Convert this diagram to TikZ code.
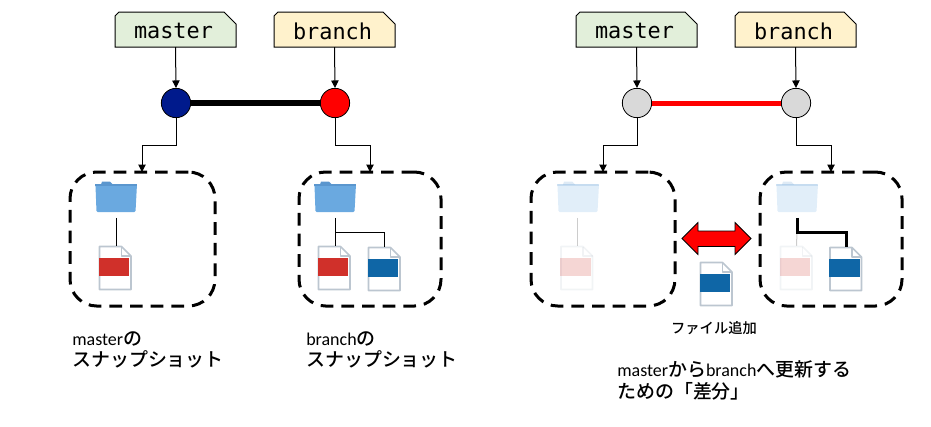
\documentclass[tikz,border=0pt]{standalone}
\usepackage{fontspec}
\setmainfont[Scale=0.95]{Carlito}
\setmonofont{DejaVu Sans Mono}
\newfontfamily\cjk{Noto Sans CJK JP Medium}
\newcommand{\jp}[1]{{\cjk #1}}
\newcommand{\captionfont}{\fontsize{14.2}{15}\selectfont\setlength{\lineskiplimit}{-20pt}}
\usetikzlibrary{arrows.meta}
\definecolor{notegreen}{HTML}{E2EFDA}
\definecolor{noteyellow}{HTML}{FFF2CC}
\definecolor{navy}{HTML}{001A8C}
\definecolor{nodegray}{HTML}{D9D9D9}
\definecolor{folderblue}{HTML}{6AA9E0}
\definecolor{foldertab}{HTML}{5A96CE}
\definecolor{fileline}{HTML}{BCC6D0}
\definecolor{filered}{HTML}{D0302A}
\definecolor{fileblue}{HTML}{0F66A6}
\tikzset{
  thin line/.style={draw=black,line width=0.75pt},
  arr/.style={thin line,-{Triangle[length=5.6pt,width=5.6pt]}},
  commit/.style={circle,draw=black,line width=0.6pt,minimum size=22pt,inner sep=0pt},
  notelabel/.style={inner sep=0pt,font=\ttfamily\fontsize{16.4}{18}\selectfont},
  snapshot/.style={rectangle,rounded corners=20pt,draw=black,line width=2.25pt,dash pattern=on 9.5pt off 6pt,inner sep=0pt},
  folderspot/.style={inner sep=0pt,minimum width=31.5pt,minimum height=23.25pt},
  filespot/.style={inner sep=0pt,minimum width=24.75pt,minimum height=33pt},
  caption/.style={inner sep=0pt,anchor=north west,align=left,font=\captionfont},
  gapstart/.style={shorten <=3.75pt},
}
\newcommand{\notebox}[5]{% name, left, top, colour, text
  \begin{scope}[shift={(#2,#3)}]
    \draw[fill=#4,line width=0.75pt] (0,35) -- (0,4) -- (4,0) -- (109,0) -- (121,12) -- (121,35) -- cycle;
    \node[notelabel] (#1) at (58.5,19) {#5};
    \coordinate (#1s) at (60.5,35);
  \end{scope}}
\newcommand{\folderart}[3]{% left, top, opacity
  \begin{scope}[shift={(#1,#2)},opacity=#3]
    \fill[foldertab] (6,3.5) -- (7,0.5) -- (15,0.5) -- (18,3.5) -- cycle;
    \fill[folderblue] (0.5,4.5) [rounded corners=0.8pt] -- (0,3) -- (42,3) -- (40.5,31) -- (1.5,31) -- cycle;
    \fill[foldertab] (0,3) rectangle (42,4.5);
  \end{scope}}
\newcommand{\fileart}[4]{% left, top, colour, opacity
  \begin{scope}[shift={(#1,#2)},opacity=#4]
    \draw[fileline,line width=1.2pt,line join=round,fill=white] (1,0.5) -- (23,0.5) -- (32.5,10) -- (32.5,43.5) -- (1,43.5) -- cycle;
    \draw[fileline,line width=0.8pt,line join=round] (23,0.5) -- (23,10) -- (32.5,10);
    \fill[#3] (0,12) rectangle (30.5,30);
  \end{scope}}
\begin{document}
\begin{tikzpicture}[x=0.75pt,y=-0.75pt]
\useasboundingbox (0,0) rectangle (931,426);
% notes
\notebox{n1}{115}{12}{notegreen}{master}
\notebox{n2}{274}{12}{noteyellow}{branch}
\notebox{n3}{576}{12}{notegreen}{master}
\notebox{n4}{735}{12}{noteyellow}{branch}
% commits
\node[commit,fill=navy] (c1) at (176,103) {};
\node[commit,fill=red] (c2) at (335,103) {};
\node[commit,fill=nodegray] (c3) at (637,103) {};
\node[commit,fill=nodegray] (c4) at (796,103) {};
\draw[line width=4.5pt] (c1) -- (c2);
\draw[line width=3.75pt,red] (c3) -- (c4);
% snapshots
\node[snapshot,minimum width=108.75pt,minimum height=100.5pt] (b1) at (142.5,239) {};
\node[snapshot,minimum width=106.5pt,minimum height=100.5pt] (b2) at (370,239) {};
\node[snapshot,minimum width=108pt,minimum height=100.5pt] (b3) at (603,239) {};
\node[snapshot,minimum width=106.5pt,minimum height=100.5pt] (b4) at (831,239) {};
% pointers
\foreach \i in {1,2,3,4}{\draw[arr] (n\i s) -- (c\i.north);}
\coordinate (t1) at (142,172);
\coordinate (t2) at (370,172);
\coordinate (t3) at (603,172);
\coordinate (t4) at (831,172);
\foreach \i in {1,2,3,4}{\draw[arr] (c\i.south) -- ++(0,27) -| (t\i);}
% panel 1
\folderart{95}{181}{1}
\fileart{98.5}{246}{filered}{1}
\node[folderspot] (fo1) at (116.5,197) {};
\node[filespot] (fi1) at (116.5,268) {};
\draw[thin line,gapstart] (fo1.south) -- (fi1.north);
% panel 2
\folderart{314}{181}{1}
\fileart{317.5}{246}{filered}{1}
\fileart{367.5}{247}{fileblue}{1}
\node[folderspot] (fo2) at (335.5,197) {};
\node[filespot] (fi2) at (335.5,268) {};
\node[filespot] (fi3) at (384.5,269) {};
\draw[thin line,gapstart] (fo2.south) -- (fi2.north);
\draw[thin line] (fo2.south) ++(0,19.5) -| (fi3.north);
% panel 3
\folderart{557}{181}{0.2}
\fileart{560}{246}{filered}{0.2}
\node[folderspot] (fo4) at (577.5,197) {};
\node[filespot] (fi4) at (577.5,268) {};
\draw[thin line,gapstart,opacity=0.2] (fo4.south) -- (fi4.north);
% panel 4
\folderart{776}{181}{0.2}
\fileart{779.5}{246}{filered}{0.2}
\fileart{829}{247}{fileblue}{1}
\node[folderspot] (fo5) at (797,197) {};
\node[filespot] (fi5) at (796.5,268) {};
\node[filespot] (fi6) at (846,269) {};
\draw[thin line,opacity=0.2] (797,232) -- (fi5.north);
\draw[line width=2.25pt,gapstart,line cap=butt] (fo5.south) |- ++(49,19.5) -| (fi6.north);
% difference
\draw[black,line width=0.6pt,fill=red,line join=miter] (682,238.5) -- (698,222.5) -- (698,231) -- (735,231) -- (735,222.5) -- (751,238.5) -- (735,254.5) -- (735,246.5) -- (698,246.5) -- (698,254.5) -- cycle;
\fileart{699.5}{262}{fileblue}{1}
% captions
\node[caption] (l1) at (72,331) {master\jp{の}\\[0.75pt]\jp{スナップショット}};
\node[caption] (l2) at (306,331) {branch\jp{の}\\[0.75pt]\jp{スナップショット}};
\node[inner sep=0pt,font=\fontsize{10.7}{12}\selectfont] (l3) at (714,328) {\jp{ファイル追加}};
\node[caption] (l4) at (617,360) {master\jp{から}branch\jp{へ更新する}\\[1.5pt]\jp{ための「差分」}};
\end{tikzpicture}
\end{document}
